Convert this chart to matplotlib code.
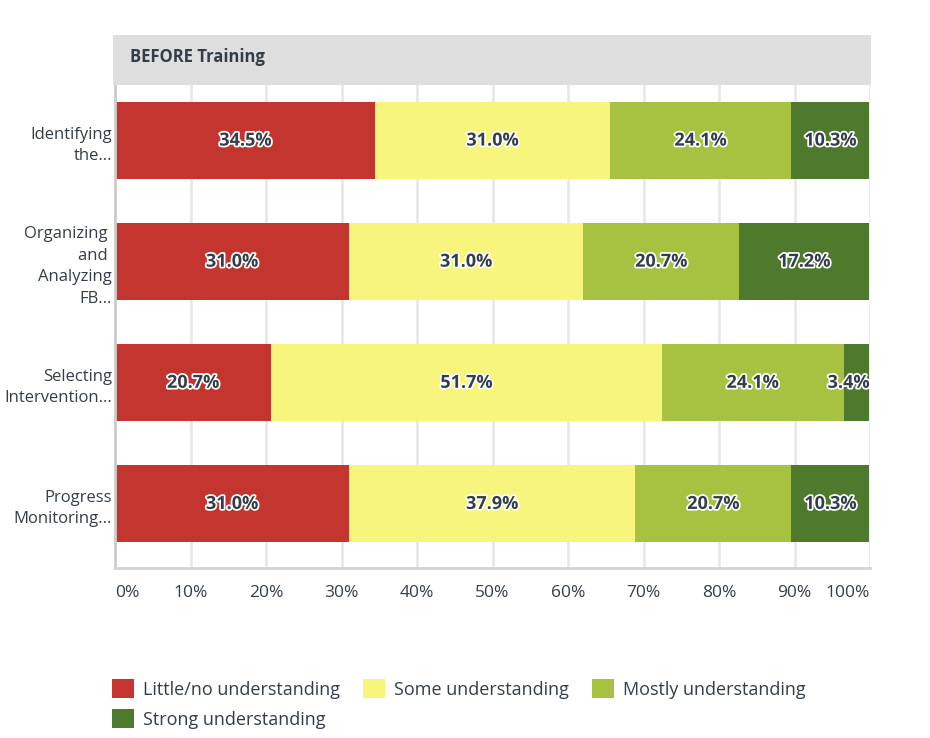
import matplotlib.pyplot as plt
import matplotlib.patheffects as pe
import numpy as np

plt.rcParams['font.family'] = ['Open Sans', 'DejaVu Sans']

questions = ['Identifying\nthe...', 'Organizing \nand \nAnalyzing\nFB...',
             'Selecting\nIntervention...', 'Progress\nMonitoring...']
levels = ['Little/no understanding', 'Some understanding',
          'Mostly understanding', 'Strong understanding']
little = [34.5, 31.0, 20.7, 31.0]
some = [31.0, 31.0, 51.7, 37.9]
mostly = [24.1, 20.7, 24.1, 20.7]
strong = [10.3, 17.2, 3.4, 10.3]
ticks = [0, 10, 20, 30, 40, 50, 60, 70, 80, 90, 100]
title = 'BEFORE Training'

colors = ['#c5352f', '#f8f57c', '#a7c140', '#4f792c']
txt_col = '#333e48'

W, H = 930, 738
fig = plt.figure(figsize=(9.3, 7.38), dpi=100)
ax = fig.add_axes([115 / W, 1 - 568 / H, 755 / W, 483 / H])

# grey header band
fig.patches.append(plt.Rectangle((113 / W, 1 - 85 / H), 758 / W, 50 / H,
                                 transform=fig.transFigure, facecolor='#dedede',
                                 edgecolor='none', zorder=0))
fig.text(130 / W, 1 - 57 / H, title, ha='left', va='center', fontsize=12,
         fontweight='bold', color=txt_col)

y = np.arange(len(questions))
left = np.zeros(len(questions))
series = [little, some, mostly, strong]
for vals, col, name in zip(series, colors, levels):
    vals = np.array(vals)
    ax.barh(y, vals, left=left, height=0.636, color=col, label=name, zorder=2)
    for yi, l, v in zip(y, left, vals):
        if v < 5 and l + v > 98:
            x, ha = 99.9, 'right'
        else:
            x, ha = l + v / 2, 'center'
        ax.text(x, yi, f'{v:.1f}%', ha=ha, va='center', fontsize=13,
                fontweight='bold', color=txt_col, zorder=3,
                path_effects=[pe.withStroke(linewidth=2.5, foreground='white')])
    left += vals

ax.set_xlim(0, 100)
ax.set_ylim(3.529, -0.459)
ax.set_xticks(ticks)
ax.set_xticklabels([f'{t}%' for t in ticks])
labs = ax.get_xticklabels()
labs[0].set_ha('left')
labs[-1].set_ha('right')
ax.tick_params(axis='x', length=0, pad=12, labelsize=12.5, labelcolor=txt_col)
ax.set_yticks(y)
ax.set_yticklabels(questions, fontsize=12, color=txt_col, linespacing=1.45)
ax.tick_params(axis='y', length=0, pad=2)
ax.grid(axis='x', color='#e6e6e6', linewidth=1.8, zorder=0)
ax.set_axisbelow(True)
for s in ['top', 'right']:
    ax.spines[s].set_visible(False)
ax.spines['left'].set_color('#cccccc')
ax.spines['left'].set_linewidth(2)
ax.spines['bottom'].set_color('#d4d4d4')
ax.spines['bottom'].set_linewidth(2)

# legend filled row by row
h, l = ax.get_legend_handles_labels()
order = [0, 3, 1, 2]
fig.legend([h[i] for i in order], [l[i] for i in order], loc='upper left',
           bbox_to_anchor=(105 / W, 1 - 672 / H), ncol=3,
           frameon=False, fontsize=13, handlelength=1.2, handleheight=1.2,
           handletextpad=0.5, columnspacing=1.3, labelspacing=0.6,
           labelcolor=txt_col, borderaxespad=0)

fig.savefig('out.png', dpi=100)
